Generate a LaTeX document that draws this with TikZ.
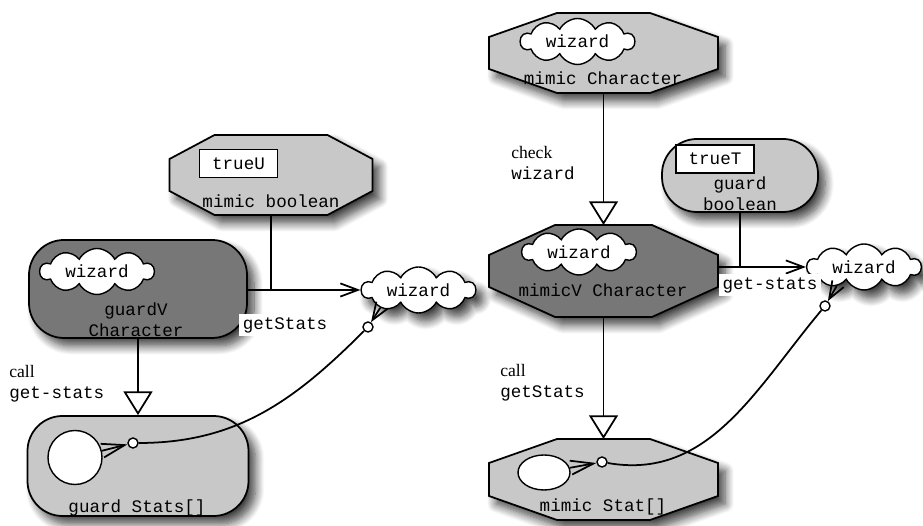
\documentclass[tikz,border=0pt]{standalone}
\usepackage{fontspec}
\setmainfont{Liberation Serif}
\setmonofont{Liberation Mono}
\usetikzlibrary{arrows.meta,calc,shapes.symbols,shapes.geometric,shadows.blur}
\definecolor{lite}{HTML}{C8C8C8}
\definecolor{dark}{HTML}{777777}
\def\pxu{0.02cm}

\begin{document}
\begin{tikzpicture}[x=\pxu, y=\pxu,
      drop/.style={blur shadow={shadow xshift=4pt, shadow yshift=-4.5pt, shadow blur radius=5pt, shadow blur steps=10, shadow opacity=75}},
      pill/.style={draw, line width=1pt, rounded corners=0.7cm, inner sep=0, drop},
      octo/.style={draw, line width=1pt, drop}, box/.style={inner sep=0, outer sep=0},
      puff/.style={cloud, cloud puffs=10, cloud puff arc=125, cloud ignores aspect, draw, fill=white, line width=.8pt,
        inner sep=0, minimum width=114*\pxu, minimum height=46*\pxu, font=\ttfamily},
      tag/.style={draw, fill=white, line width=.8pt, inner sep=0, minimum width=78*\pxu, minimum height=28*\pxu, font=\ttfamily},
      txt/.style={font=\ttfamily, align=center, inner sep=2pt}, note/.style={font=\ttfamily, align=left, anchor=west, inner sep=0},
      hole/.style={circle, draw, fill=white, line width=.8pt, inner sep=0, minimum size=10*\pxu},
      wire/.style={line width=1pt}, msg/.style={wire, -{Straight Barb[length=10pt, width=7.5pt]}},
      fork/.style={wire, -{Straight Barb[length=13pt, width=8pt]}},
      isa/.style={wire, -{Triangle[fill=white, length=13.5pt, width=16.5pt]}}]
    \useasboundingbox (0,0) rectangle (923,526);
    % frames first, so the contents sit on top
    \node[pill, fill=dark, minimum width=218*\pxu, minimum height=98*\pxu] (gv) at (138,237) {};
    \node[pill, fill=lite, minimum width=221*\pxu, minimum height=100*\pxu] (gs) at (138,60) {};
    \node[pill, fill=lite, minimum width=156*\pxu, minimum height=73*\pxu] (gb) at (740,350.5) {};
    \node[box, minimum width=203*\pxu, minimum height=80*\pxu] (mb) at (271,351) {};
    \node[box, minimum width=229*\pxu, minimum height=80*\pxu] (mc) at (603.5,473) {};
    \node[box, minimum width=229*\pxu, minimum height=92*\pxu] (mv) at (603.5,255) {};
    \node[box, minimum width=229*\pxu, minimum height=81*\pxu] (ms) at (603.5,46.5) {};
    \foreach \n/\c/\v/\col in {mb/45/24/lite, mc/68/24/lite, mv/66/30/dark, ms/68/24/lite}
      \path[octo, fill=\col] ($(\n.north west)+(\c,0)$) -- ($(\n.north east)+(-\c,0)$) -- ($(\n.north east)+(0,-\v)$)
        -- ($(\n.south east)+(0,\v)$) -- ($(\n.south east)+(-\c,0)$) -- ($(\n.south west)+(\c,0)$)
        -- ($(\n.south west)+(0,\v)$) -- ($(\n.north west)+(0,-\v)$) -- cycle;
    % left half
    \node[puff] (gvw) at (97,254.5) {wizard};
    \node[txt] (gvt) at (136,206) {guardV\\Character};
    \node[tag] (mbu) at (238.5,362.5) {trueU};
    \node[txt] (mbt) at (271,325) {mimic boolean};
    \node[puff, drop] (wl) at (418.5,236) {wizard};
    \node[txt, fill=white] (gsl) at (285,201) {getStats};
    \node[circle, draw, fill=white, line width=.8pt, minimum size=54*\pxu] (cgs) at (75,68.5) {};
    \node[hole] (sgs) at (133,83) {};
    \node[txt] (gst) at (137,18) {guard Stats[]};
    \node[hole] (sl) at (368,199) {};
    \node[note] (cl) at (9,142) {{\rmfamily call}\\get-stats};
    \draw[wire] (mb.south) -- (mb.south |- wl.west);
    \draw[msg] (gv.east |- wl.west) -- (wl.west);
    \draw[isa] (gv.south) -- (gs.north);
    \draw[fork] (cgs) -- (sgs);
    \draw[msg] (wl.205) -- (sl);
    \draw[wire] (sgs) to[out=0, in=-135] (sl);
    % right half
    \node[puff] (mcw) at (577.5,484.5) {wizard};
    \node[txt] (mct) at (603,448) {mimic Character};
    \node[note] (ck) at (511,363) {{\rmfamily check}\\wizard};
    \node[puff] (mvw) at (579,274) {wizard};
    \node[txt] (mvt) at (603,236) {mimicV Character};
    \node[tag] (gbu) at (715,367) {trueT};
    \node[txt] (gbt) at (740,332) {guard\\boolean};
    \node[puff, drop] (wr) at (864,259) {wizard};
    \node[ellipse, draw, fill=white, line width=.8pt, minimum width=52*\pxu, minimum height=35*\pxu] (cms) at (544,53.5) {};
    \node[hole] (sms) at (602,64) {};
    \node[txt] (mst) at (603,19) {mimic Stat[]};
    \node[hole] (sr) at (825,220) {};
    \node[note] (cr) at (500,143) {{\rmfamily call}\\getStats};
    \draw[isa] (mc.south) -- (mv.north);
    \draw[wire] (gb.south) -- (gb.south |- wr.west);
    \draw[msg] (mv.east |- wr.west) -- (wr.west);
    \node[txt, fill=white] (gsr) at (770,241) {get-stats};
    \draw[isa] (mv.south) -- (ms.north);
    \draw[fork] (cms) -- (sms);
    \draw[msg] (wr.215) -- (sr);
    \draw[wire] (sms) to[out=-10, in=-130] (sr);
  \end{tikzpicture}
\end{document}
